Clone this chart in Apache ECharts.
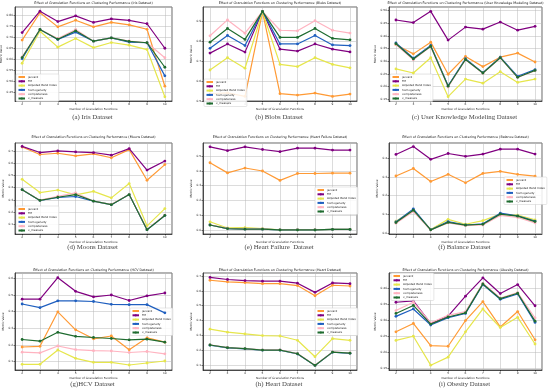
<!DOCTYPE html>
<html><head><meta charset="utf-8">
<script src="https://cdn.jsdelivr.net/npm/echarts@6/dist/echarts.min.js"></script>
<style>html,body{margin:0;padding:0;background:#fff}#c{width:550px;height:390px}</style>
</head><body><div id="c"></div>
<script>
const categories = [2, 3, 4, 5, 6, 7, 8, 9, 10];
const metricNames = ['jaccard', 'FM', 'Adjusted Rand Index', 'homogeneity', 'completeness', 'v_measure'];
const datasetNames = ['Iris', 'Blobs', 'User Knowledge Modeling', 'Moons', 'Heart Failure', 'Balance', 'HCV', 'Heart', 'Obesity'];
const captionTexts = ['(a) Iris Dataset', '(b) Blobs Dataset', '(c) User Knowledge Modeling Dataset', '(d) Moons Dataset', '(e) Heart Failure  Dataset', '(f) Balance Dataset', '(g)HCV Dataset', '(h) Heart Dataset', '(i) Obesity Dataset'];

// Iris
const irisJaccard = [0.687,0.811,0.747,0.777,0.747,0.767,0.756,0.736,0.478];
const irisFM      = [0.721,0.818,0.771,0.797,0.767,0.783,0.776,0.761,0.650];
const irisARI     = [0.582,0.727,0.655,0.694,0.653,0.676,0.664,0.644,0.430];
const irisHomog   = [0.603,0.735,0.690,0.723,0.682,0.697,0.678,0.675,0.525];
const irisCompl   = [0.611,0.735,0.694,0.735,0.682,0.697,0.683,0.675,0.607];
const irisVMeas   = [0.608,0.735,0.691,0.729,0.682,0.697,0.681,0.675,0.564];
// Blobs
const blobsJaccard = [0.535,0.540,0.522,0.948,0.536,0.529,0.539,0.522,0.534];
const blobsFM      = [0.740,0.786,0.745,0.950,0.760,0.750,0.786,0.760,0.746];
const blobsARI     = [0.655,0.717,0.664,0.948,0.683,0.672,0.717,0.683,0.666];
const blobsHomog   = [0.764,0.829,0.778,0.950,0.786,0.786,0.829,0.781,0.778];
const blobsCompl   = [0.827,0.907,0.840,0.950,0.855,0.852,0.903,0.855,0.841];
const blobsVMeas   = [0.795,0.864,0.809,0.950,0.819,0.819,0.864,0.814,0.807];
// User Knowledge Modeling
const ukmJaccard = [0.365,0.329,0.375,0.249,0.319,0.279,0.316,0.332,0.297];
const ukmFM      = [0.462,0.452,0.496,0.383,0.434,0.426,0.454,0.422,0.437];
const ukmARI     = [0.270,0.254,0.314,0.161,0.230,0.214,0.259,0.217,0.230];
const ukmHomog   = [0.372,0.312,0.362,0.204,0.310,0.255,0.316,0.241,0.267];
const ukmCompl   = [0.366,0.306,0.358,0.199,0.306,0.253,0.313,0.236,0.263];
const ukmVMeas   = [0.369,0.309,0.359,0.202,0.307,0.254,0.314,0.237,0.264];
// Moons
const moonsJaccard = [0.732,0.671,0.681,0.660,0.676,0.644,0.711,0.460,0.588];
const moonsFM      = [0.737,0.687,0.700,0.692,0.687,0.665,0.719,0.543,0.617];
const moonsARI     = [0.468,0.359,0.380,0.340,0.369,0.316,0.433,0.087,0.228];
const moonsHomog   = [0.383,0.295,0.319,0.327,0.289,0.260,0.343,0.055,0.172];
const moonsCompl   = [0.383,0.297,0.329,0.356,0.289,0.263,0.343,0.058,0.175];
const moonsVMeas   = [0.383,0.295,0.321,0.343,0.289,0.260,0.343,0.055,0.172];
// Heart Failure
const hfJaccard = [0.456,0.387,0.420,0.400,0.336,0.383,0.383,0.385,0.385];
const hfFM      = [0.564,0.538,0.564,0.546,0.531,0.555,0.555,0.542,0.542];
const hfARI     = [0.055,0.013,0.015,0.009,0.000,0.000,0.000,0.004,0.004];
const hfHomog   = [0.033,0.009,0.005,0.005,0.000,0.000,0.000,0.003,0.003];
const hfCompl   = [0.034,0.010,0.006,0.006,0.001,0.001,0.001,0.004,0.004];
const hfVMeas   = [0.033,0.009,0.005,0.005,0.000,0.000,0.000,0.003,0.003];
// Balance
const balJaccard = [0.304,0.344,0.275,0.313,0.268,0.318,0.329,0.313,0.303];
const balFM      = [0.419,0.461,0.393,0.424,0.409,0.421,0.447,0.447,0.421];
const balARI     = [0.063,0.122,0.019,0.073,0.047,0.066,0.101,0.096,0.070];
const balHomog   = [0.059,0.129,0.017,0.061,0.043,0.049,0.106,0.092,0.064];
const balCompl   = [0.052,0.115,0.016,0.054,0.040,0.043,0.094,0.083,0.054];
const balVMeas   = [0.056,0.122,0.017,0.057,0.042,0.047,0.101,0.090,0.061];
// HCV
const hcvJaccard = [0.188,0.192,0.399,0.291,0.237,0.254,0.172,0.243,0.217];
const hcvFM      = [0.475,0.475,0.604,0.522,0.489,0.500,0.467,0.495,0.512];
const hcvARI     = [0.084,0.084,0.170,0.120,0.096,0.096,0.080,0.092,0.104];
const hcvHomog   = [0.446,0.424,0.465,0.465,0.461,0.444,0.442,0.442,0.393];
const hcvCompl   = [0.157,0.153,0.194,0.172,0.166,0.164,0.155,0.161,0.147];
const hcvVMeas   = [0.233,0.223,0.276,0.252,0.245,0.239,0.231,0.235,0.217];
// Heart
const heartJaccard = [0.672,0.661,0.656,0.649,0.649,0.636,0.567,0.638,0.633];
const heartFM      = [0.691,0.677,0.670,0.666,0.666,0.652,0.590,0.654,0.649];
const heartARI     = [0.341,0.321,0.309,0.298,0.295,0.266,0.155,0.277,0.266];
const heartHomog   = [0.233,0.215,0.208,0.199,0.199,0.174,0.095,0.185,0.178];
const heartCompl   = [0.235,0.217,0.210,0.201,0.201,0.176,0.097,0.187,0.180];
const heartVMeas   = [0.234,0.216,0.209,0.200,0.200,0.175,0.096,0.186,0.179];
// Obesity
const obJaccard = [0.265,0.291,0.222,0.220,0.300,0.359,0.280,0.328,0.240];
const obFM      = [0.357,0.361,0.291,0.314,0.376,0.433,0.384,0.412,0.346];
const obARI     = [0.238,0.251,0.161,0.186,0.265,0.336,0.278,0.310,0.227];
const obHomog   = [0.313,0.336,0.286,0.309,0.322,0.412,0.366,0.383,0.294];
const obCompl   = [0.331,0.357,0.293,0.316,0.328,0.416,0.370,0.387,0.308];
const obVMeas   = [0.322,0.347,0.289,0.311,0.324,0.414,0.368,0.385,0.298];

const panelSeries = [
  [irisJaccard, irisFM, irisARI, irisHomog, irisCompl, irisVMeas],
  [blobsJaccard, blobsFM, blobsARI, blobsHomog, blobsCompl, blobsVMeas],
  [ukmJaccard, ukmFM, ukmARI, ukmHomog, ukmCompl, ukmVMeas],
  [moonsJaccard, moonsFM, moonsARI, moonsHomog, moonsCompl, moonsVMeas],
  [hfJaccard, hfFM, hfARI, hfHomog, hfCompl, hfVMeas],
  [balJaccard, balFM, balARI, balHomog, balCompl, balVMeas],
  [hcvJaccard, hcvFM, hcvARI, hcvHomog, hcvCompl, hcvVMeas],
  [heartJaccard, heartFM, heartARI, heartHomog, heartCompl, heartVMeas],
  [obJaccard, obFM, obARI, obHomog, obCompl, obVMeas]
];

// layout / style (not data)
const colors = ['#FF9A35', '#800080', '#E6E64C', '#1F5FBF', '#FFB3C0', '#1E6B2F'];
const cols = [{left: 15, width: 157}, {left: 203, width: 154}, {left: 389, width: 153}];
const rows = [{top: 7, height: 94, title: 3.6, caption: 117}, {top: 143, height: 91, title: 137.3, caption: 247}, {top: 273, height: 97, title: 270.6, caption: 384}];
const yRanges = [[0.411,0.837,8,2],[0.499,0.972,5,1],[0.144,0.513,7,2],[0.02,0.765,7,1],[-0.028,0.59,6,1],[-0.005,0.48,5,1],[0.05,0.632,6,1],[0.065,0.721,7,1],[0.146,0.448,6,2]];
const legendPos = [[16,74],[204,79],[390,74],[16,206],[315,187],[504,177],[130,308],[315,308],[391,273]];

const grids = [], xAxes = [], yAxes = [], series = [], legends = [], graphics = [];
for (let p = 0; p < 9; p++) {
  const c = cols[p % 3], r = rows[Math.floor(p / 3)];
  grids.push({left: c.left, top: r.top, width: c.width, height: r.height, show: true, borderColor: '#000', borderWidth: 0.6, backgroundColor: 'transparent', containLabel: false, outerBoundsMode: 'none'});
  xAxes.push({
    type: 'value', gridIndex: p, min: 1.6, max: 10.4, splitNumber: 9,
    name: 'Number of Granulation Functions', nameLocation: 'middle', nameGap: 6.3,
    nameTextStyle: {fontSize: 2.9, color: '#222', fontFamily: 'DejaVu Sans'},
    axisLine: {show: true, onZero: false, lineStyle: {color: '#000', width: 0.6}},
    axisTick: {show: true, length: 1.5, lineStyle: {color: '#000', width: 0.5}},
    axisLabel: {fontSize: 2.9, color: '#222', margin: 2, fontFamily: 'DejaVu Sans', showMinLabel: false, showMaxLabel: false,
      formatter: v => Number.isInteger(Math.round(v * 1000) / 1000) ? String(Math.round(v)) : ''},
    splitLine: {show: true, lineStyle: {color: '#b8b8b8', width: 0.5}}
  });
  const yr = yRanges[p];
  yAxes.push({
    type: 'value', gridIndex: p, min: yr[0], max: yr[1], splitNumber: yr[2], scale: true,
    name: 'Metric Value', nameLocation: 'middle', nameGap: 10.5, nameRotate: 90,
    nameTextStyle: {fontSize: 2.9, color: '#222', fontFamily: 'DejaVu Sans'},
    axisLine: {show: true, onZero: false, lineStyle: {color: '#000', width: 0.6}},
    axisTick: {show: true, length: 1.5, lineStyle: {color: '#000', width: 0.5}},
    axisLabel: {fontSize: 2.9, color: '#222', margin: 2, fontFamily: 'DejaVu Sans', showMinLabel: false, showMaxLabel: false,
      formatter: (dec => v => v.toFixed(dec))(yr[3])},
    splitLine: {show: true, lineStyle: {color: '#b8b8b8', width: 0.5}}
  });
  panelSeries[p].forEach((vals, k) => {
    series.push({
      name: metricNames[k], type: 'line', xAxisIndex: p, yAxisIndex: p,
      data: categories.map((x, i) => [x, vals[i]]),
      symbol: 'circle', symbolSize: 2.8, showSymbol: true,
      lineStyle: {width: 1.2, color: colors[k]}, itemStyle: {color: colors[k]},
      animation: false, z: 2 + k
    });
  });
  legends.push({
    left: legendPos[p][0], top: legendPos[p][1], orient: 'vertical', data: metricNames,
    itemWidth: 6.5, itemHeight: 2.7, itemGap: 1.3, padding: [1.5, 2, 1.5, 1.5],
    textStyle: {fontSize: 2.8, color: '#222', fontFamily: 'DejaVu Sans', padding: [0, 0, 0, -2]},
    backgroundColor: 'rgba(255,255,255,0.85)', borderColor: '#cccccc', borderWidth: 0.5, borderRadius: 1,
    selectedMode: false
  });
  graphics.push({
    type: 'text', x: c.left + c.width / 2, y: r.title,
    style: {text: 'Effect of Granulation Functions on Clustering Performance (' + datasetNames[p] + ' Dataset)',
      align: 'center', verticalAlign: 'middle', fontSize: 3.3, fontFamily: 'DejaVu Sans', fill: '#111'}
  });
  graphics.push({
    type: 'text', x: c.left + c.width / 2 - 1, y: r.caption,
    style: {text: captionTexts[p], align: 'center', verticalAlign: 'middle', fontSize: 6.8, fontFamily: 'Liberation Serif', fill: '#444'}
  });
}

const chart = echarts.init(document.getElementById('c'), null, {renderer: 'canvas'});
chart.setOption({
  animation: false,
  backgroundColor: '#fff',
  color: colors,
  grid: grids, xAxis: xAxes, yAxis: yAxes, series: series, legend: legends,
  graphic: graphics
});
</script>
</body></html>
